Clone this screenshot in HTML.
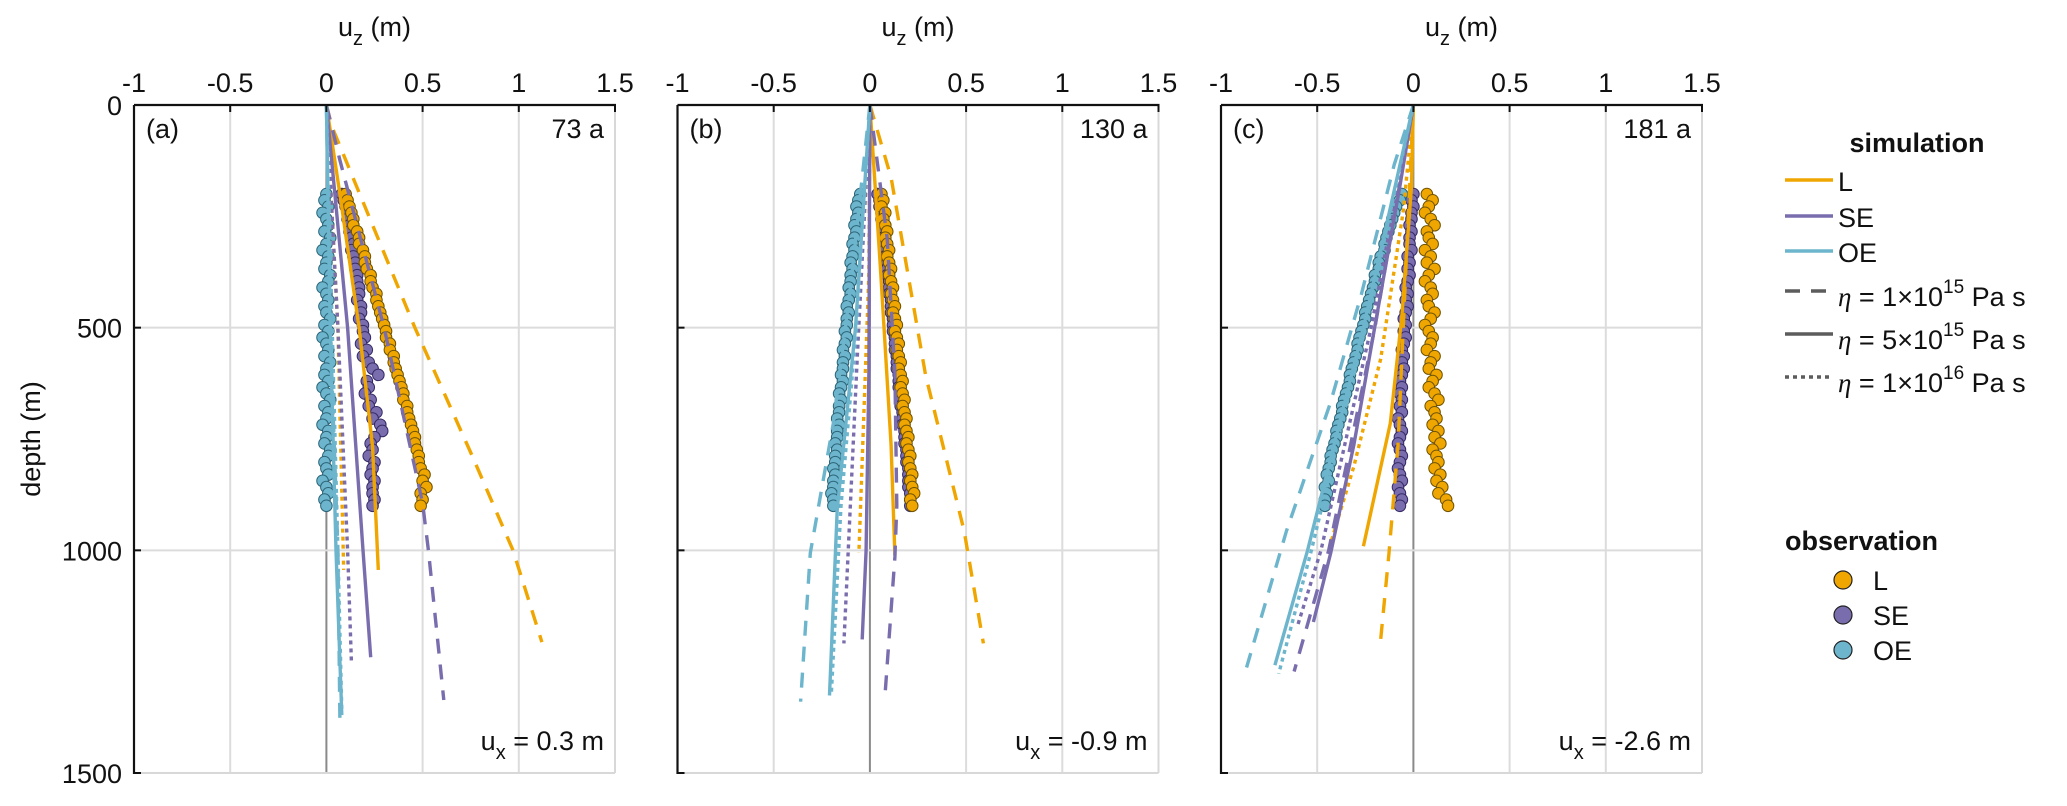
<!DOCTYPE html>
<html><head><meta charset="utf-8"><style>
body{margin:0;background:#fff;}
svg text{font-family:"Liberation Sans",Arial,sans-serif;fill:#111;}
</style></head><body>
<svg id="chart" width="2067" height="801" viewBox="0 0 2067 801" xmlns="http://www.w3.org/2000/svg"></svg>
<script>
const xTicks=[-1,-0.5,0,0.5,1,1.5];
const xTickLabels=["-1","-0.5","0","0.5","1","1.5"];
const yTicks=[0,500,1000,1500];
const panelLabels=["(a)","(b)","(c)"];
const timeLabels=["73 a","130 a","181 a"];
const uxLabels=["0.3","-0.9","-2.6"];
const obsDepth=[200,214,228,242,256,270,284,298,312,326,340,354,368,382,396,410,424,438,452,466,480,494,508,522,536,550,564,578,592,606,620,634,648,662,676,690,704,718,732,746,760,774,788,802,816,830,844,858,872,886,900];
const obsA_L=[0.10,0.11,0.12,0.13,0.14,0.14,0.16,0.17,0.17,0.19,0.20,0.20,0.21,0.23,0.23,0.24,0.26,0.26,0.27,0.28,0.29,0.30,0.31,0.31,0.33,0.33,0.35,0.35,0.36,0.37,0.38,0.39,0.40,0.40,0.42,0.42,0.43,0.44,0.45,0.46,0.46,0.47,0.48,0.48,0.49,0.51,0.50,0.52,0.49,0.50,0.49];
const obsA_SE=[0.08,0.09,0.10,0.11,0.11,0.12,0.12,0.13,0.14,0.13,0.14,0.15,0.15,0.16,0.16,0.17,0.17,0.16,0.18,0.18,0.17,0.19,0.19,0.20,0.18,0.21,0.19,0.22,0.24,0.27,0.21,0.22,0.20,0.23,0.22,0.26,0.24,0.28,0.29,0.25,0.23,0.24,0.22,0.25,0.24,0.23,0.25,0.24,0.24,0.25,0.24];
const obsA_OE=[0.00,-0.01,0.01,-0.02,0.00,0.01,-0.01,0.02,0.00,-0.02,0.01,0.00,-0.01,0.02,0.01,-0.02,0.00,0.01,-0.01,0.00,0.02,-0.01,0.01,-0.02,0.00,0.01,-0.01,0.02,0.00,-0.01,0.01,-0.02,0.00,0.02,-0.01,0.01,0.00,-0.02,0.01,0.00,-0.01,0.02,0.01,-0.01,0.00,0.01,-0.02,0.00,0.01,-0.01,0.00];
const obsB_L=[0.06,0.07,0.06,0.08,0.07,0.08,0.09,0.08,0.09,0.10,0.09,0.10,0.11,0.10,0.11,0.12,0.11,0.12,0.13,0.12,0.13,0.14,0.13,0.14,0.15,0.14,0.15,0.16,0.15,0.16,0.17,0.16,0.17,0.18,0.17,0.18,0.19,0.18,0.19,0.20,0.19,0.20,0.21,0.20,0.21,0.22,0.21,0.22,0.23,0.21,0.22];
const obsB_SE=[0.04,0.05,0.05,0.06,0.06,0.07,0.07,0.07,0.08,0.08,0.08,0.09,0.09,0.09,0.10,0.10,0.10,0.11,0.11,0.11,0.12,0.12,0.12,0.13,0.13,0.13,0.14,0.14,0.14,0.15,0.15,0.15,0.16,0.16,0.16,0.17,0.17,0.17,0.18,0.18,0.18,0.19,0.19,0.19,0.20,0.20,0.20,0.20,0.21,0.21,0.21];
const obsB_OE=[-0.05,-0.06,-0.07,-0.06,-0.07,-0.08,-0.07,-0.08,-0.09,-0.08,-0.09,-0.10,-0.09,-0.10,-0.10,-0.11,-0.10,-0.11,-0.12,-0.11,-0.12,-0.12,-0.13,-0.12,-0.13,-0.14,-0.13,-0.14,-0.14,-0.15,-0.14,-0.15,-0.16,-0.15,-0.16,-0.16,-0.17,-0.16,-0.17,-0.17,-0.18,-0.17,-0.18,-0.18,-0.19,-0.18,-0.19,-0.19,-0.20,-0.19,-0.19];
const obsC_L=[0.07,0.10,0.08,0.06,0.09,0.11,0.07,0.08,0.10,0.06,0.09,0.07,0.11,0.08,0.06,0.09,0.10,0.07,0.08,0.11,0.09,0.06,0.08,0.10,0.09,0.07,0.11,0.09,0.08,0.12,0.10,0.08,0.11,0.13,0.09,0.11,0.12,0.10,0.13,0.11,0.14,0.10,0.12,0.13,0.11,0.14,0.12,0.15,0.13,0.17,0.18];
const obsC_SE=[0.00,-0.01,0.00,-0.01,-0.01,-0.02,-0.01,-0.02,-0.02,-0.01,-0.03,-0.02,-0.03,-0.02,-0.03,-0.04,-0.03,-0.04,-0.03,-0.04,-0.05,-0.04,-0.05,-0.04,-0.05,-0.06,-0.05,-0.06,-0.05,-0.06,-0.07,-0.06,-0.07,-0.06,-0.07,-0.06,-0.08,-0.07,-0.06,-0.07,-0.08,-0.07,-0.06,-0.07,-0.08,-0.07,-0.06,-0.08,-0.07,-0.06,-0.07];
const obsC_OE=[-0.06,-0.07,-0.09,-0.10,-0.11,-0.12,-0.13,-0.14,-0.15,-0.15,-0.17,-0.18,-0.18,-0.20,-0.20,-0.21,-0.22,-0.23,-0.24,-0.25,-0.25,-0.26,-0.27,-0.28,-0.29,-0.29,-0.30,-0.31,-0.32,-0.33,-0.33,-0.34,-0.35,-0.36,-0.37,-0.37,-0.38,-0.39,-0.40,-0.40,-0.41,-0.42,-0.43,-0.43,-0.44,-0.45,-0.44,-0.46,-0.45,-0.46,-0.46];
// simulation curves: depth arrays and uz arrays
const simA_L_dash_d=[0,50,500,790,1000,1206], simA_L_dash_u=[0,0.03,0.46,0.76,0.97,1.12];
const simA_L_solid_d=[0,200,500,768,1044], simA_L_solid_u=[0,0.07,0.17,0.24,0.27];
const simA_L_dot_d=[0,500,1044], simA_L_dot_u=[0,0.06,0.09];
const simA_SE_dash_d=[0,124,500,894,1000,1336], simA_SE_dash_u=[0,0.07,0.30,0.50,0.53,0.61];
const simA_SE_solid_d=[0,500,1000,1240], simA_SE_solid_u=[0,0.11,0.19,0.23];
const simA_SE_dot_d=[0,500,1000,1250], simA_SE_dot_u=[0,0.06,0.11,0.13];
const simA_OE_dash_d=[0,500,1000,1380], simA_OE_dash_u=[0,0.02,0.06,0.07];
const simA_OE_solid_d=[0,500,1000,1370], simA_OE_solid_u=[0,0.02,0.05,0.08];
const simA_OE_dot_d=[0,500,1000,1360], simA_OE_dot_u=[0,0.03,0.06,0.08];
const simB_L_dash_d=[0,163,608,957,1209], simB_L_dash_u=[0,0.11,0.29,0.49,0.59];
const simB_L_solid_d=[0,376,764,1011], simB_L_solid_u=[0,0.056,0.11,0.13];
const simB_L_dot_d=[0,376,1006], simB_L_dot_u=[0,-0.005,-0.057];
const simB_SE_dash_d=[0,300,600,900,1015,1316], simB_SE_dash_u=[0,0.09,0.13,0.14,0.13,0.08];
const simB_SE_solid_d=[0,600,1000,1200], simB_SE_solid_u=[0,-0.005,-0.02,-0.04];
const simB_SE_dot_d=[0,570,1209], simB_SE_dot_u=[0,-0.066,-0.135];
const simB_OE_dash_d=[0,405,715,1006,1340], simB_OE_dash_u=[0,-0.1,-0.19,-0.31,-0.36];
const simB_OE_solid_d=[0,500,909,1326], simB_OE_solid_u=[0,-0.075,-0.17,-0.21];
const simB_OE_dot_d=[0,500,900,1320], simB_OE_dot_u=[0,-0.07,-0.15,-0.20];
const simC_L_dash_d=[0,376,764,1006,1200], simC_L_dash_u=[0,-0.04,-0.08,-0.127,-0.17];
const simC_L_solid_d=[0,182,473,715,991], simC_L_solid_u=[0,-0.01,-0.06,-0.12,-0.26];
const simC_L_dot_d=[0,230,570,812,977], simC_L_dot_u=[0,-0.05,-0.17,-0.31,-0.425];
const simC_SE_dash_d=[0,500,1000,1272], simC_SE_dash_u=[0,-0.2,-0.44,-0.62];
const simC_SE_solid_d=[0,182,473,764,1006,1161], simC_SE_solid_u=[0,-0.07,-0.19,-0.31,-0.43,-0.52];
const simC_SE_dot_d=[0,500,1000,1166], simC_SE_dot_u=[0,-0.22,-0.48,-0.6];
const simC_OE_dash_d=[0,134,424,667,957,1282], simC_OE_dash_u=[0,-0.1,-0.27,-0.43,-0.66,-0.88];
const simC_OE_solid_d=[0,500,1000,1258], simC_OE_solid_u=[0,-0.26,-0.55,-0.72];
const simC_OE_dot_d=[0,500,1000,1277], simC_OE_dot_u=[0,-0.25,-0.53,-0.70];

const NS="http://www.w3.org/2000/svg";
const svg=document.getElementById('chart');
function mk(tag,attrs,parent){const e=document.createElementNS(NS,tag);for(const k in attrs)e.setAttribute(k,attrs[k]);(parent||svg).appendChild(e);return e;}
const COL={L:"#F0A600",SE:"#7A6DAE",OE:"#6CB5CC"};
const EDGE={L:"#6e5200",SE:"#352a66",OE:"#2b6478"};
const DASH={dash:"15 11",solid:"none",dot:"4 4"};
const panelLeft=[134,677.5,1221], W=481, TOP=105, BOT=773;
const panels=[
 {obs:{L:obsA_L,SE:obsA_SE,OE:obsA_OE},sim:{L:{dash:[simA_L_dash_d,simA_L_dash_u],solid:[simA_L_solid_d,simA_L_solid_u],dot:[simA_L_dot_d,simA_L_dot_u]},SE:{dash:[simA_SE_dash_d,simA_SE_dash_u],solid:[simA_SE_solid_d,simA_SE_solid_u],dot:[simA_SE_dot_d,simA_SE_dot_u]},OE:{dash:[simA_OE_dash_d,simA_OE_dash_u],solid:[simA_OE_solid_d,simA_OE_solid_u],dot:[simA_OE_dot_d,simA_OE_dot_u]}}},
 {obs:{SE:obsB_SE,L:obsB_L,OE:obsB_OE},sim:{L:{dash:[simB_L_dash_d,simB_L_dash_u],solid:[simB_L_solid_d,simB_L_solid_u],dot:[simB_L_dot_d,simB_L_dot_u]},SE:{dash:[simB_SE_dash_d,simB_SE_dash_u],solid:[simB_SE_solid_d,simB_SE_solid_u],dot:[simB_SE_dot_d,simB_SE_dot_u]},OE:{dash:[simB_OE_dash_d,simB_OE_dash_u],solid:[simB_OE_solid_d,simB_OE_solid_u],dot:[simB_OE_dot_d,simB_OE_dot_u]}}},
 {obs:{L:obsC_L,SE:obsC_SE,OE:obsC_OE},sim:{L:{dash:[simC_L_dash_d,simC_L_dash_u],solid:[simC_L_solid_d,simC_L_solid_u],dot:[simC_L_dot_d,simC_L_dot_u]},SE:{dash:[simC_SE_dash_d,simC_SE_dash_u],solid:[simC_SE_solid_d,simC_SE_solid_u],dot:[simC_SE_dot_d,simC_SE_dot_u]},OE:{dash:[simC_OE_dash_d,simC_OE_dash_u],solid:[simC_OE_solid_d,simC_OE_solid_u],dot:[simC_OE_dot_d,simC_OE_dot_u]}}}
];
const names=["a","b","c"];
panels.forEach((p,i)=>{
  const L=panelLeft[i];
  const xs=u=>L+(u+1)/2.5*W;
  const ys=d=>TOP+d/1500*(BOT-TOP);
  const g=mk('g',{});
  
  
  xTicks.forEach(t=>{if(t>-1){const ln=mk('line',{x1:xs(t),x2:xs(t),y1:TOP,y2:BOT,stroke:t===0?"#8a8a8a":"#dcdcdc","stroke-width":2},g);}});
  yTicks.forEach(t=>{if(t>0){const ln=mk('line',{x1:L,x2:L+W,y1:ys(t),y2:ys(t),stroke:"#dcdcdc","stroke-width":2},g);}});
  ["SE","L","OE"].forEach(s=>{
    const arr=p.obs[s]; if(!arr)return;
    const og=mk('g',{},g);
    
    
    const n=Math.min(arr.length,obsDepth.length);
    for(let k=0;k<n;k++){const c=mk('circle',{cx:xs(arr[k]),cy:ys(obsDepth[k]),r:5.8,fill:COL[s],stroke:EDGE[s],"stroke-width":1},og);
      
      }
  });
  ["L","SE","OE"].forEach(s=>["dash","solid","dot"].forEach(st=>{
    const [dd,uu]=p.sim[s][st];
    const pts=dd.map((d,k)=>xs(uu[k]).toFixed(1)+","+ys(d).toFixed(1)).join(" ");
    const pl=mk('polyline',{points:pts,fill:"none",stroke:COL[s],"stroke-width":3.4,"stroke-dasharray":DASH[st],"stroke-linejoin":"round"},g);
    
    
  }));
  mk('line',{x1:L+W,x2:L+W,y1:TOP,y2:BOT,stroke:"#d8d8d8","stroke-width":2},g);
  mk('line',{x1:L,x2:L+W,y1:BOT,y2:BOT,stroke:"#d8d8d8","stroke-width":2},g);
  const ax=mk('line',{x1:L,x2:L+W+1,y1:TOP,y2:TOP,stroke:"#111","stroke-width":2.2},g);
  
  const ay=mk('line',{x1:L,x2:L,y1:TOP,y2:BOT+1,stroke:"#111","stroke-width":2.2},g);
  
  xTicks.forEach((t,k)=>{
    mk('line',{x1:xs(t),x2:xs(t),y1:TOP,y2:TOP+7,stroke:"#111","stroke-width":2},g);
    const tx=mk('text',{x:xs(t),y:TOP-13,"font-size":27,"text-anchor":"middle"},g);tx.textContent=xTickLabels[k];
    
  });
  yTicks.forEach(t=>{
    mk('line',{x1:L,x2:L+7,y1:ys(t),y2:ys(t),stroke:"#111","stroke-width":2},g);
    if(i===0){const tx=mk('text',{x:L-12,y:ys(t)+10,"font-size":27,"text-anchor":"end"},g);tx.textContent=String(t);
      }
  });
  const tt=mk('text',{x:L+W/2,y:36,"font-size":27,"text-anchor":"middle"},g);
  tt.innerHTML='u<tspan dy="9" font-size="20">z</tspan><tspan dy="-9"> (m)</tspan>';
  
  const pl=mk('text',{x:L+12,y:TOP+33,"font-size":27},g);pl.textContent=panelLabels[i];
  
  const tl=mk('text',{x:L+W-11,y:TOP+33,"font-size":27,"text-anchor":"end"},g);tl.textContent=timeLabels[i];
  
  const ux=mk('text',{x:L+W-11,y:BOT-23,"font-size":27,"text-anchor":"end"},g);
  ux.innerHTML='u<tspan dy="9" font-size="20">x</tspan><tspan dy="-9"> = '+uxLabels[i]+' m</tspan>';
  
});
const yt=mk('text',{x:0,y:0,"font-size":27,"text-anchor":"middle",transform:"translate(40,439) rotate(-90)"});
yt.textContent="depth (m)";

const lg=mk('g',{});

const st=mk('text',{x:1917,y:152,"font-size":27,"font-weight":"bold","text-anchor":"middle"},lg);st.textContent="simulation";

const simLeg=[["L",COL.L,180],["SE",COL.SE,216],["OE",COL.OE,251]];
simLeg.forEach(r=>{
  const e=mk('line',{x1:1785,x2:1833,y1:r[2],y2:r[2],stroke:r[1],"stroke-width":3.6},lg);
  
  const t=mk('text',{x:1838,y:r[2]+11,"font-size":27},lg);t.textContent=r[0];
});
const etaLeg=[["dash","15 11","1","15",291],["solid","none","5","15",334],["dot","4 4","1","16",377]];
etaLeg.forEach(r=>{
  const e=mk('line',{x1:1785,x2:1833,y1:r[4],y2:r[4],stroke:"#5c5c5c","stroke-width":3.6,"stroke-dasharray":r[1]},lg);
  
  const t=mk('text',{x:1838,y:r[4]+15,"font-size":27},lg);
  t.innerHTML='<tspan font-family="Liberation Serif" font-style="italic">η</tspan> = '+r[2]+'×10<tspan dy="-13" font-size="19">'+r[3]+'</tspan><tspan dy="13"> Pa s</tspan>';
});
const ot=mk('text',{x:1785,y:550,"font-size":27,"font-weight":"bold"},lg);ot.textContent="observation";

[["L",580],["SE",615],["OE",650]].forEach(r=>{
  const c=mk('circle',{cx:1843,cy:r[1],r:9,fill:COL[r[0]],stroke:"#222","stroke-width":1.2},lg);
  
  const t=mk('text',{x:1873,y:r[1]+10,"font-size":27},lg);t.textContent=r[0];
});
</script>
</body></html>
